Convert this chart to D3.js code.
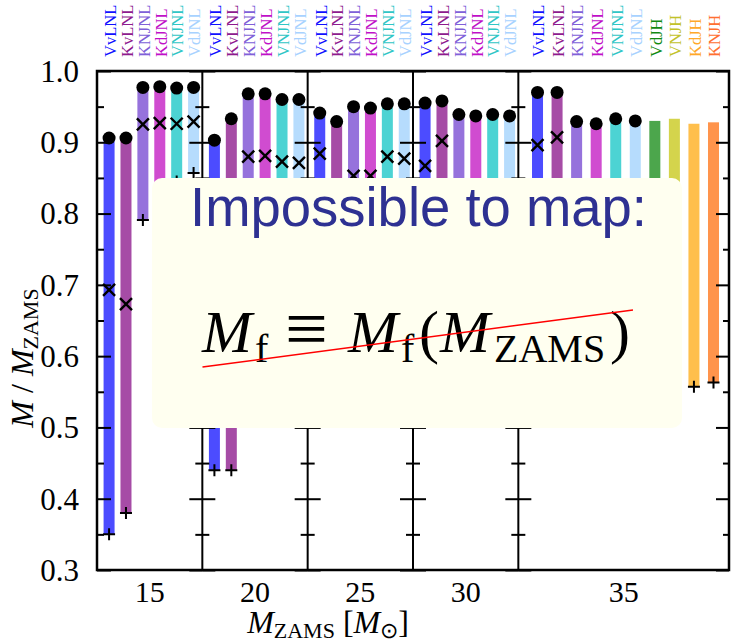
<!DOCTYPE html>
<html><head><meta charset="utf-8">
<script src="https://cdn.jsdelivr.net/npm/d3@7"></script>
<style>body{margin:0;background:#fff}svg{display:block}</style>
</head><body>
<svg id="chart" width="731" height="642"></svg>
<script>
// ZAMS masses, one panel each
const masses = [15, 20, 25, 30, 35];
const massTickLabels = ["15", "20", "25", "30", "35"];
const yTickValues = [0.3, 0.4, 0.5, 0.6, 0.7, 0.8, 0.9, 1.0];
const yTickLabels = ["0.3", "0.4", "0.5", "0.6", "0.7", "0.8", "0.9", "1.0"];
const yMinorValues = [0.35, 0.45, 0.55, 0.65, 0.75, 0.85, 0.95];

// model runs in each panel
const modelsLNL = ["VvLNL", "KvLNL", "KNJNL", "KdJNL", "VNJNL", "VdJNL"];
const modelsJH = ["VdJH", "VNJH", "KdJH", "KNJH"];
const panelModels = [modelsLNL, modelsLNL, modelsLNL, modelsLNL, modelsLNL.concat(modelsJH)];

// upper end of each bar (M / M_ZAMS)
const barTop = [
  [0.906, 0.906, 0.977, 0.978, 0.976, 0.977],
  [0.903, 0.933, 0.968, 0.968, 0.960, 0.960],
  [0.941, 0.929, 0.950, 0.948, 0.954, 0.954],
  [0.955, 0.958, 0.939, 0.937, 0.939, 0.937],
  [0.970, 0.970, 0.929, 0.926, 0.933, 0.930, 0.930, 0.933, 0.926, 0.928]
];
// lower end of each bar, marked with "+"
const barBottom = [
  [0.350, 0.380, 0.791, 0.790, 0.845, 0.857],
  [0.440, 0.440, 0.600, 0.610, 0.630, 0.640],
  [0.580, 0.570, 0.620, 0.620, 0.650, 0.660],
  [0.600, 0.600, 0.660, 0.660, 0.680, 0.680],
  [0.620, 0.620, 0.700, 0.700, 0.720, 0.720, 0.600, 0.600, 0.557, 0.563]
];
// filled dots at the bar tops (none for the JH runs)
const dotVals = [
  [0.906, 0.906, 0.977, 0.978, 0.976, 0.977],
  [0.903, 0.933, 0.968, 0.968, 0.960, 0.960],
  [0.941, 0.929, 0.950, 0.948, 0.954, 0.954],
  [0.955, 0.958, 0.939, 0.937, 0.939, 0.937],
  [0.970, 0.970, 0.929, 0.926, 0.933, 0.930, null, null, null, null]
];
// "x" markers
const crossVals = [
  [0.693, 0.673, 0.925, 0.927, 0.926, 0.929],
  [0.700, 0.680, 0.880, 0.881, 0.873, 0.871],
  [0.884, 0.800, 0.853, 0.853, 0.880, 0.877],
  [0.867, 0.902, 0.800, 0.800, 0.810, 0.810],
  [0.896, 0.907, 0.820, 0.820, 0.820, 0.820, null, null, null, null]
];

const barColor = {
  VvLNL: "#4c4cff", KvLNL: "#a64ca6", KNJNL: "#9672dc", KdJNL: "#d04cd0",
  VNJNL: "#4cd3d3", VdJNL: "#b6dcfd", VdJH: "#4ca64c", VNJH: "#d4d44c",
  KdJH: "#ffbf4c", KNJH: "#ff944c"
};
const labelColor = {
  VvLNL: "#1010ff", KvLNL: "#8e1a8e", KNJNL: "#8060d8", KdJNL: "#c010c8",
  VNJNL: "#30c6c6", VdJNL: "#a8d2ff", VdJH: "#108a10", VNJH: "#c2c22a",
  KdJH: "#ffa828", KNJH: "#ff7030"
};

const svg = d3.select("#chart");
const plotL = 97, plotR = 729, plotT = 71, plotB = 570;

const y = d3.scaleLinear().domain([0.3, 1.0]).range([plotB, plotT]);
// panel widths: four single-width panels and a double-width one
const panelSpan = [[0, 1], [1, 2], [2, 3], [3, 4], [4, 6]];
const xPanel = d3.scaleLinear().domain([0, 6]).range([plotL, plotR]);
const panelPad = [0.616, 0.616, 0.616, 0.616, 0.887];
const panelAlign = [0.58, 0.58, 0.58, 0.58, 0.553];
const xInner = panelModels.map((models, p) =>
  d3.scalePoint().domain(d3.range(models.length))
    .range([xPanel(panelSpan[p][0]), xPanel(panelSpan[p][1])])
    .padding(panelPad[p]).align(panelAlign[p]));

const bars = [];
panelModels.forEach((models, p) => models.forEach((m, i) => bars.push({
  p, i, model: m, x: xInner[p](i),
  top: barTop[p][i], bot: barBottom[p][i], dot: dotVals[p][i], cross: crossVals[p][i]
})));

const barW = 11;
const gBars = svg.append("g");
gBars.selectAll("rect").data(bars).join("rect")
  .attr("x", d => d.x - barW / 2).attr("width", barW)
  .attr("y", d => y(d.top)).attr("height", d => y(d.bot) - y(d.top))
  .attr("fill", d => barColor[d.model]);

// "+" at the lower ends
gBars.selectAll("path.plus").data(bars).join("path").attr("class", "plus")
  .attr("d", d => `M${d.x - 6},${y(d.bot)}H${d.x + 6}M${d.x},${y(d.bot) - 6}V${y(d.bot) + 6}`)
  .attr("stroke", "#000").attr("stroke-width", 2).attr("fill", "none");

// "x" markers
gBars.selectAll("path.cross").data(bars.filter(d => d.cross != null)).join("path").attr("class", "cross")
  .attr("d", d => { const cy = y(d.cross), s = 6; return `M${d.x - s},${cy - s}L${d.x + s},${cy + s}M${d.x - s},${cy + s}L${d.x + s},${cy - s}`; })
  .attr("stroke", "#000").attr("stroke-width", 2.4).attr("fill", "none");

// dots at the tops
gBars.selectAll("circle").data(bars.filter(d => d.dot != null)).join("circle")
  .attr("cx", d => d.x).attr("cy", d => y(d.dot)).attr("r", 6.5).attr("fill", "#000");

// axes: outer frame ticks and panel dividers
function tickAxis(axisFn, g, size, values) {
  g.call(axisFn(y).tickValues(values).tickSize(size).tickFormat(""))
    .call(s => s.select(".domain").remove())
    .call(s => s.selectAll("line").attr("stroke", "#000").attr("stroke-width", 2));
}
const gAx = svg.append("g");
const gl = gAx.append("g").attr("transform", `translate(${plotL},0)`);
tickAxis(d3.axisRight, gl.append("g"), 14, yTickValues);
tickAxis(d3.axisRight, gl.append("g"), 7, yMinorValues);
const gr = gAx.append("g").attr("transform", `translate(${plotR},0)`);
tickAxis(d3.axisLeft, gr.append("g"), 13, yTickValues);
tickAxis(d3.axisLeft, gr.append("g"), 6, yMinorValues);

[1, 2, 3, 4].forEach(k => {
  const xd = xPanel(k);
  const g = gAx.append("g").attr("transform", `translate(${xd},0)`);
  tickAxis(d3.axisLeft, g.append("g"), 13, yTickValues);
  tickAxis(d3.axisRight, g.append("g"), 13, yTickValues);
  tickAxis(d3.axisLeft, g.append("g"), 7, yMinorValues);
  tickAxis(d3.axisRight, g.append("g"), 7, yMinorValues);
  g.append("line").attr("y1", plotT).attr("y2", plotB).attr("stroke", "#000").attr("stroke-width", 2);
});
gAx.append("rect").attr("x", plotL).attr("y", plotT).attr("width", plotR - plotL).attr("height", plotB - plotT)
  .attr("fill", "none").attr("stroke", "#000").attr("stroke-width", 2.5);

// y tick labels
svg.append("g").selectAll("text").data(yTickValues).join("text")
  .attr("x", 79).attr("y", d => y(d)).attr("dy", "0.35em")
  .attr("text-anchor", "end").attr("font-family", "Liberation Serif, serif").attr("font-size", 31)
  .text((d, i) => yTickLabels[i]);

// x tick labels at panel centres
svg.append("g").selectAll("text").data(masses).join("text")
  .attr("x", (d, i) => xPanel((panelSpan[i][0] + panelSpan[i][1]) / 2)).attr("y", 602)
  .attr("text-anchor", "middle").attr("font-family", "Liberation Serif, serif").attr("font-size", 30)
  .text((d, i) => massTickLabels[i]);

// model names above the frame
svg.append("g").selectAll("text").data(bars).join("text")
  .attr("transform", d => `translate(${d.x + 1},57) rotate(-90)`)
  .attr("dy", "0.35em").attr("font-family", "Liberation Serif, serif").attr("font-size", 16.5)
  .attr("fill", d => labelColor[d.model]).text(d => d.model);

// axis titles
const xt = svg.append("text").attr("x", 328).attr("y", 633).attr("text-anchor", "middle")
  .attr("font-family", "Liberation Serif, serif").attr("font-size", 32);
xt.append("tspan").attr("font-style", "italic").text("M");
xt.append("tspan").attr("font-size", 22).attr("dy", 5).text("ZAMS");
xt.append("tspan").attr("dy", -5).text(" [");
xt.append("tspan").attr("font-style", "italic").text("M");
xt.append("tspan").attr("font-size", 22).attr("dy", 5).text("\u2299");
xt.append("tspan").attr("dy", -5).text("]");

const yt = svg.append("text").attr("transform", "translate(33,358) rotate(-90)").attr("text-anchor", "middle")
  .attr("font-family", "Liberation Serif, serif").attr("font-size", 32);
yt.append("tspan").attr("font-style", "italic").text("M");
yt.append("tspan").text(" / ");
yt.append("tspan").attr("font-style", "italic").text("M");
yt.append("tspan").attr("font-size", 22).attr("dy", 5).text("ZAMS");

// overlay note
const note = svg.append("g");
note.append("rect").attr("x", 152).attr("y", 178).attr("width", 530).attr("height", 250).attr("rx", 10)
  .attr("fill", "#fffff0");
note.append("text").attr("x", 190).attr("y", 226).attr("font-family", "Liberation Sans, Arial, sans-serif")
  .attr("font-size", 56).attr("fill", "#2e3192").attr("textLength", 457).attr("lengthAdjust", "spacingAndGlyphs")
  .text("Impossible to map:");
const f = note.append("text").attr("y", 352).attr("font-family", "Liberation Serif, serif")
  .attr("font-size", 60).attr("fill", "#000");
f.append("tspan").attr("x", 202).attr("font-style", "italic").text("M");
f.append("tspan").attr("x", 255).attr("font-size", 40).attr("dy", 10).text("f");
f.append("tspan").attr("x", 285).attr("dy", -8).attr("font-size", 76).text("\u2261");
f.append("tspan").attr("x", 348).attr("dy", -2).attr("font-style", "italic").text("M");
f.append("tspan").attr("x", 401).attr("font-size", 40).attr("dy", 10).text("f");
f.append("tspan").attr("x", 419).attr("dy", -10).text("(");
f.append("tspan").attr("x", 440).attr("font-style", "italic").text("M");
f.append("tspan").attr("x", 494).attr("font-size", 40).attr("dy", 10).text("ZAMS");
f.append("tspan").attr("x", 610).attr("dy", -10).text(")");
note.append("line").attr("x1", 202.5).attr("y1", 367).attr("x2", 633).attr("y2", 310)
  .attr("stroke", "#ff0000").attr("stroke-width", 1.5);
</script>
</body></html>
